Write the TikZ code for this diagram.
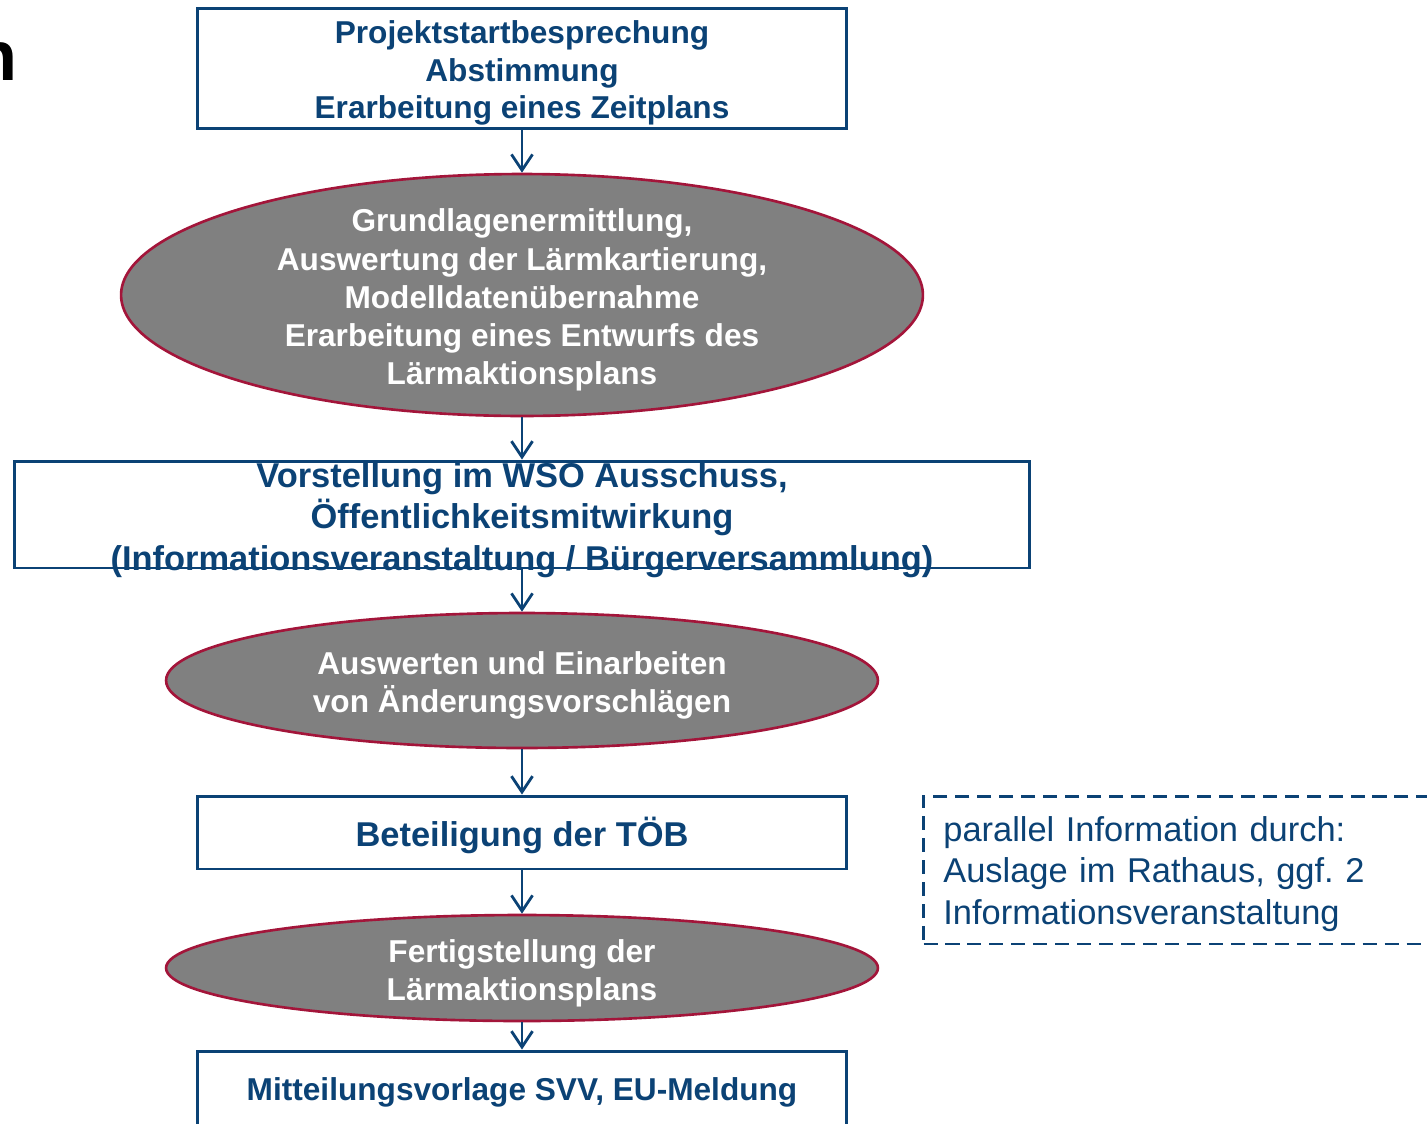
\documentclass[tikz,border=0pt]{standalone}
\usepackage{fontspec}
\setmainfont{Liberation Sans}
\usetikzlibrary{shapes.geometric}
\usetikzlibrary{arrows.meta}
\definecolor{lapblue}{HTML}{0B4275}
\definecolor{lapred}{HTML}{A3153A}
\definecolor{lapgray}{HTML}{808080}

\begin{document}
\begin{tikzpicture}[x=0.02cm, y=-0.02cm,
    stepbox/.style={draw=lapblue, line width=1.7pt, rectangle, inner sep=0pt, minimum width=13cm},
    oval/.style={draw=lapred, line width=1.5pt, ellipse, fill=lapgray, inner sep=0pt, minimum width=14.24cm},
    steptext/.style={text=lapblue, align=center, inner sep=0pt, font=\fontsize{18}{21.5}\selectfont\bfseries},
    ovaltext/.style={text=white, align=center, inner sep=0pt, font=\fontsize{18}{21.7}\selectfont\bfseries},
    flow/.style={-{Straight Barb[length=9pt,width=12pt]}, draw=lapblue, line width=1.6pt}]
            \useasboundingbox (0,0) rectangle (1427,1123);
            \clip (0,0) rectangle (1427,1123);

            % title fragment, cut off at the left edge
            \node[anchor=base east, inner sep=0pt, font=\fontsize{40}{48}\selectfont\bfseries] (titel) at (18,80) {n};

            % process chain
            \node[stepbox, minimum height=2.42cm] (start) at (522,68.5) {};
            \node[steptext] (starttext) at (522,73) {Projektstartbesprechung\\Abstimmung\\Erarbeitung eines Zeitplans};
            \node[oval, minimum width=16.04cm, minimum height=4.84cm] (grund) at (522,295) {};
            \node[ovaltext] (grundtext) at (522,300) {Grundlagenermittlung,\\Auswertung der Lärmkartierung,\\Modelldatenübernahme\\Erarbeitung eines Entwurfs des\\Lärmaktionsplans};
            \node[stepbox, minimum width=20.3cm, minimum height=2.14cm] (vorst) at (522,514.5) {};
            \node[steptext, font=\fontsize{19.6}{23.5}\selectfont\bfseries] (vorsttext) at (522,520) {Vorstellung im WSO Ausschuss,\\Öffentlichkeitsmitwirkung\\(Informationsveranstaltung / Bürgerversammlung)};
            \node[oval, minimum height=2.7cm] (auswert) at (522,680.5) {};
            \node[ovaltext] (auswerttext) at (522,685) {Auswerten und Einarbeiten\\von Änderungsvorschlägen};
            \node[stepbox, minimum height=1.46cm] (toeb) at (522,832.5) {};
            \node[steptext, font=\fontsize{19.6}{23.5}\selectfont\bfseries] (toebtext) at (522,835.5) {Beteiligung der TÖB};
            \node[oval, minimum height=2.12cm] (fertig) at (522,968) {};
            \node[ovaltext] (fertigtext) at (522,973) {Fertigstellung der\\Lärmaktionsplans};
            \node[stepbox, minimum height=1.56cm] (meldung) at (522,1090) {};
            \node[steptext] (meldungtext) at (522,1092) {Mitteilungsvorlage SVV, EU-Meldung};

            \draw[flow] (start) -- (grund);
            \draw[flow] (grund) -- (vorst);
            \draw[flow] (vorst) -- (auswert);
            \draw[flow] (auswert) -- (toeb);
            \draw[flow] (toeb) -- (fertig);
            \draw[flow] (fertig) -- (meldung);

            % side note
            \node[draw=lapblue, line width=1.7pt, dash pattern=on 8pt off 4.5pt, rectangle, anchor=west,
                  minimum width=10.4cm, minimum height=2.96cm] (parallel) at (922,870) {};
            \node[anchor=west, inner sep=0pt, text width=9.6cm, align=left, text=lapblue,
                  font=\fontsize{19.6}{23.5}\selectfont] (paralleltext) at (943,874) {parallel Information durch:\\Auslage im Rathaus, ggf.\ 2\\Informationsveranstaltung};
        \end{tikzpicture}
\end{document}
